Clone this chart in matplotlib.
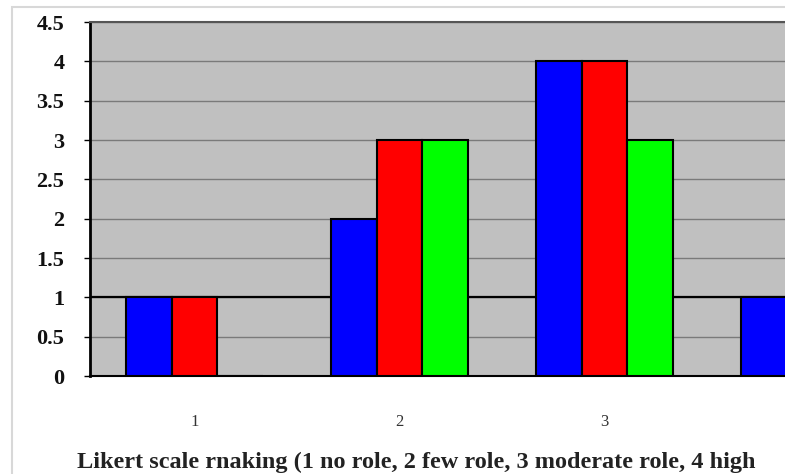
import matplotlib
matplotlib.use("Agg")
import matplotlib.pyplot as plt
import matplotlib.patches as mpatches
import numpy as np

categories = ["1", "2", "3", "4"]
series_blue = [1, 2, 4, 1]
series_red = [1, 3, 4, 2]
series_green = [0, 3, 3, 2]
yticks = [0, 0.5, 1, 1.5, 2, 2.5, 3, 3.5, 4, 4.5]
xlabel = "Likert scale rnaking (1 no role, 2 few role, 3 moderate role, 4 high"

plt.rcParams["font.family"] = ["Liberation Serif", "DejaVu Serif"]

W, H = 785, 474
fig = plt.figure(figsize=(W / 100, H / 100), dpi=100)
fig.patch.set_facecolor("white")

# outer chart border (runs off the right and bottom edges)
fig.patches.append(mpatches.Rectangle((12 / W, -0.1), 1.2, (H - 7) / H + 0.1,
                                      transform=fig.transFigure, fill=False,
                                      edgecolor="#d8d8d8", linewidth=1.5, zorder=0))

ax = fig.add_axes([90 / W, (H - 376) / H, 824 / W, 354 / H])
ax.set_facecolor("#c0c0c0")

x = np.arange(1, len(categories) + 1)
w = 0.224
for off, vals, col in [(-w, series_blue, "#0000ff"), (0, series_red, "#ff0000"),
                       (w, series_green, "#00ff00")]:
    ax.bar(x + off, vals, width=w, color=col, edgecolor="black", linewidth=1.5, zorder=3)

ax.set_xlim(0.49, 4.51)
ax.set_ylim(0, 4.5)
ax.set_yticks(yticks)
ax.set_yticklabels([f"{t:g}" for t in yticks], fontsize=16, fontweight="bold",
                   color="#111111")
# only the first three category labels fall inside the figure
ax.set_xticks(x[:3])
ax.set_xticklabels(categories[:3], fontsize=12, color="#333333")
ax.tick_params(axis="x", length=0, pad=27)
ax.tick_params(axis="y", length=4.5, width=1, pad=14, direction="out")

ax.yaxis.grid(True, color="#7a7a7a", linewidth=1, zorder=1)
ax.set_axisbelow(True)
ax.axhline(1, color="black", linewidth=1.6, zorder=2)

ax.spines["left"].set_linewidth(2)
ax.spines["left"].set_color("black")
ax.spines["bottom"].set_linewidth(1.5)
ax.spines["bottom"].set_color("black")
ax.spines["top"].set_color("#555555")
ax.spines["top"].set_linewidth(1.5)
ax.spines["right"].set_visible(False)

fig.text(416 / W, 1 - 462 / H, xlabel, ha="center", va="center",
         fontsize=17.5, fontweight="bold", color="#222222")

fig.savefig("out.png", dpi=100)
